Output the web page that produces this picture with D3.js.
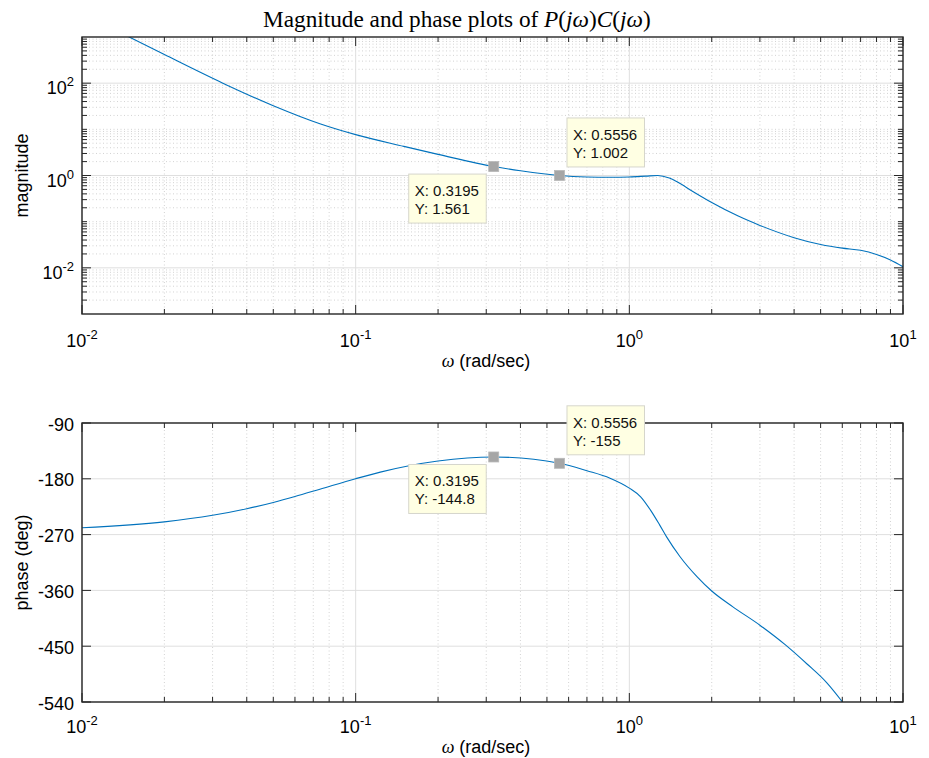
<!DOCTYPE html>
<html><head><meta charset="utf-8">
<script src="https://cdn.jsdelivr.net/npm/d3@7"></script>
<style>body{margin:0;background:#fff}svg{display:block}</style>
</head><body>
<svg id="c" width="929" height="758"></svg>
<script>
// ---- data ----
const magFreq = [0.01, 0.015, 0.02, 0.0327, 0.05, 0.074, 0.1, 0.15, 0.2, 0.3195, 0.4, 0.5556, 0.7, 0.85, 1.0, 1.15, 1.27, 1.4, 1.5, 1.7, 2, 2.5, 3, 4, 5, 6, 7, 8, 9, 10];
const magVals = [3283, 973, 416, 100, 32.4, 13.2, 7.67, 4.27, 2.87, 1.561, 1.27, 1.002, 0.93, 0.915, 0.93, 0.97, 1.0, 0.88, 0.72, 0.457, 0.26, 0.132, 0.083, 0.045, 0.032, 0.0267, 0.024, 0.0195, 0.0148, 0.0106];
const phaseFreq = [0.01, 0.02, 0.03, 0.04, 0.05, 0.06, 0.074, 0.1, 0.123, 0.2, 0.3195, 0.5556, 0.7, 0.85, 1.0, 1.1, 1.2, 1.29, 1.37, 1.53, 1.77, 2, 2.39, 3, 3.71, 4.46, 5.27, 6, 7];
const phaseVals = [-259, -249.5, -238.9, -228.3, -218.1, -208.6, -196.8, -179.8, -169.2, -151.3, -144.8, -155, -167, -179, -195, -209, -231.7, -254.3, -274.1, -305.3, -338.2, -361, -386.5, -416.1, -447.5, -478.7, -509.1, -539.6, -580];
const xTicks = [0.01, 0.1, 1, 10];
const xTickExp = ["-2", "-1", "0", "1"];
const magTicks = [0.01, 1, 100];
const magTickExp = ["-2", "0", "2"];
const phaseTicks = [-540, -450, -360, -270, -180, -90];
const tipX = [0.3195, 0.5556];
const tipMag = [1.561, 1.002];
const tipPhase = [-144.8, -155];
const tipMagText = [["X: 0.3195", "Y: 1.561"], ["X: 0.5556", "Y: 1.002"]];
const tipPhaseText = [["X: 0.3195", "Y: -144.8"], ["X: 0.5556", "Y: -155"]];
const titleText = "Magnitude and phase plots of ";

// ---- layout ----
const svg = d3.select("#c");
const L = 82, R = 903;
const top1 = 37, bot1 = 314, top2 = 423, bot2 = 702;
const SANS = "Helvetica, 'Liberation Sans', Arial, sans-serif";
const SERIF = "'Liberation Serif', 'DejaVu Serif', serif";
const AX = "#262626", MAJ = "#dfdfdf", MIN = "#c8c8c8", LINE = "#0072BD";

const x = d3.scaleLog().domain([0.01, 10]).range([L, R]);
const yMag = d3.scaleLog().domain([1e-3, 1e3]).range([bot1, top1]);
const yPh = d3.scaleLinear().domain([-540, -90]).range([bot2, top2]);

function minorLog(lo, hi) {
  const out = [];
  for (let d = lo; d < hi * 0.999; d *= 10) for (let k = 2; k <= 9; k++) out.push(d * k);
  return out;
}
const xMinor = minorLog(0.01, 10);
const yMinorMag = minorLog(1e-3, 1e3).concat([1e-1, 10]);

svg.append("defs").html(
  `<clipPath id="cp1"><rect x="${L}" y="${top1}" width="${R-L}" height="${bot1-top1}"/></clipPath>
   <clipPath id="cp2"><rect x="${L}" y="${top2}" width="${R-L}" height="${bot2-top2}"/></clipPath>`);

function panel(yScale, yT, yB, yMajor, yMinor, yLabelFn, clipId, freq, vals, tips, tipVals, tipTexts, xLabY, yTitle) {
  const g = svg.append("g");
  // minor grid
  g.selectAll(null).data(xMinor).join("line")
    .attr("x1", d => x(d)).attr("x2", d => x(d)).attr("y1", yT).attr("y2", yB)
    .attr("stroke", MIN).attr("stroke-width", 0.8).attr("stroke-dasharray", "1,2.5");
  g.selectAll(null).data(yMinor).join("line")
    .attr("x1", L).attr("x2", R).attr("y1", d => yScale(d)).attr("y2", d => yScale(d))
    .attr("stroke", MIN).attr("stroke-width", 0.8).attr("stroke-dasharray", "1,2.5");
  // major grid
  g.selectAll(null).data(xTicks).join("line")
    .attr("x1", d => x(d)).attr("x2", d => x(d)).attr("y1", yT).attr("y2", yB)
    .attr("stroke", MAJ).attr("stroke-width", 1);
  g.selectAll(null).data(yMajor).join("line")
    .attr("x1", L).attr("x2", R).attr("y1", d => yScale(d)).attr("y2", d => yScale(d))
    .attr("stroke", MAJ).attr("stroke-width", 1);
  // curve
  const line = d3.line().x(d => x(d[0])).y(d => yScale(d[1])).curve(d3.curveMonotoneX);
  g.append("path").datum(freq.map((f, i) => [f, vals[i]]))
    .attr("clip-path", `url(#${clipId})`)
    .attr("d", line).attr("fill", "none").attr("stroke", LINE).attr("stroke-width", 1.1);
  // ticks (inward, all sides)
  const tk = g.append("g").attr("stroke", AX).attr("stroke-width", 1);
  xTicks.forEach(d => {
    tk.append("line").attr("x1", x(d)).attr("x2", x(d)).attr("y1", yB).attr("y2", yB - 9);
    tk.append("line").attr("x1", x(d)).attr("x2", x(d)).attr("y1", yT).attr("y2", yT + 9);
  });
  xMinor.forEach(d => {
    tk.append("line").attr("x1", x(d)).attr("x2", x(d)).attr("y1", yB).attr("y2", yB - 5);
    tk.append("line").attr("x1", x(d)).attr("x2", x(d)).attr("y1", yT).attr("y2", yT + 5);
  });
  yMajor.forEach(d => {
    tk.append("line").attr("x1", L).attr("x2", L + 9).attr("y1", yScale(d)).attr("y2", yScale(d));
    tk.append("line").attr("x1", R).attr("x2", R - 9).attr("y1", yScale(d)).attr("y2", yScale(d));
  });
  yMinor.forEach(d => {
    tk.append("line").attr("x1", L).attr("x2", L + 5).attr("y1", yScale(d)).attr("y2", yScale(d));
    tk.append("line").attr("x1", R).attr("x2", R - 5).attr("y1", yScale(d)).attr("y2", yScale(d));
  });
  // box
  g.append("rect").attr("x", L).attr("y", yT).attr("width", R - L).attr("height", yB - yT)
    .attr("fill", "none").attr("stroke", AX).attr("stroke-width", 1.4);
  // x tick labels
  xTicks.forEach((d, i) => {
    const t = g.append("text").attr("x", x(d)).attr("y", xLabY).attr("text-anchor", "middle")
      .attr("font-family", SANS).attr("font-size", 18).attr("fill", "#000");
    t.append("tspan").text("10");
    t.append("tspan").attr("dy", -8).attr("font-size", 13).text(xTickExp[i]);
  });
  // y tick labels
  yMajor.forEach((d, i) => yLabelFn(g, d, i));
  // x axis title
  const xt = g.append("text").attr("x", 486).attr("y", xLabY + 20).attr("text-anchor", "middle")
    .attr("font-family", SANS).attr("font-size", 18).attr("fill", "#000");
  xt.append("tspan").attr("font-family", SERIF).attr("font-style", "italic").text("ω");
  xt.append("tspan").text(" (rad/sec)");
  // y axis title
  g.append("text").attr("transform", `translate(28,${(yT + yB) / 2}) rotate(-90)`)
    .attr("text-anchor", "middle").attr("font-family", SANS).attr("font-size", 18).attr("fill", "#000")
    .text(yTitle);
  // data tips
  const offs = [[-85, 7.5], [7.5, -57.5]];
  tips.forEach((tx, i) => {
    const mx = x(tx), my = yScale(tipVals[i]);
    const bx = mx + offs[i][0], by = my + offs[i][1];
    g.append("rect").attr("x", bx).attr("y", by).attr("width", 77.5).attr("height", 49)
      .attr("fill", "#ffffe3").attr("stroke", "#d6d6cc").attr("stroke-width", 1);
    tipTexts[i].forEach((s, j) => {
      g.append("text").attr("x", bx + 6).attr("y", by + 22 + j * 18)
        .attr("font-family", SANS).attr("font-size", 15).attr("fill", "#111").text(s);
    });
    g.append("rect").attr("x", mx - 5).attr("y", my - 5).attr("width", 10).attr("height", 10)
      .attr("fill", "#a6a6a6").attr("stroke", "#b8b8b8").attr("stroke-width", 0.8);
  });
}

panel(yMag, top1, bot1, magTicks, yMinorMag, (g, d, i) => {
  const t = g.append("text").attr("x", 74).attr("y", yMag(d) + 11).attr("text-anchor", "end")
    .attr("font-family", SANS).attr("font-size", 18).attr("fill", "#000");
  t.append("tspan").text("10");
  t.append("tspan").attr("dy", -8).attr("font-size", 13).text(magTickExp[i]);
}, "cp1", magFreq, magVals, tipX, tipMag, tipMagText, 347, "magnitude");

panel(yPh, top2, bot2, phaseTicks, [], (g, d, i) => {
  g.append("text").attr("x", 74).attr("y", yPh(d) + 7.5).attr("text-anchor", "end")
    .attr("font-family", SANS).attr("font-size", 18).attr("fill", "#000").text(String(d));
}, "cp2", phaseFreq, phaseVals, tipX, tipPhase, tipPhaseText, 733, "phase (deg)");

// title
const title = svg.append("text").attr("x", 263).attr("y", 27)
  .attr("font-family", SERIF).attr("font-size", 21).attr("fill", "#000");
title.append("tspan").text(titleText);
[["P", true], ["(", false], ["jω", true], [")", false], ["C", true], ["(", false], ["jω", true], [")", false]]
  .forEach(([s, it]) => title.append("tspan").attr("font-style", it ? "italic" : "normal").text(s));
const w = title.node().getComputedTextLength();
title.attr("font-size", 21 * 388 / w);
</script>
</body></html>
